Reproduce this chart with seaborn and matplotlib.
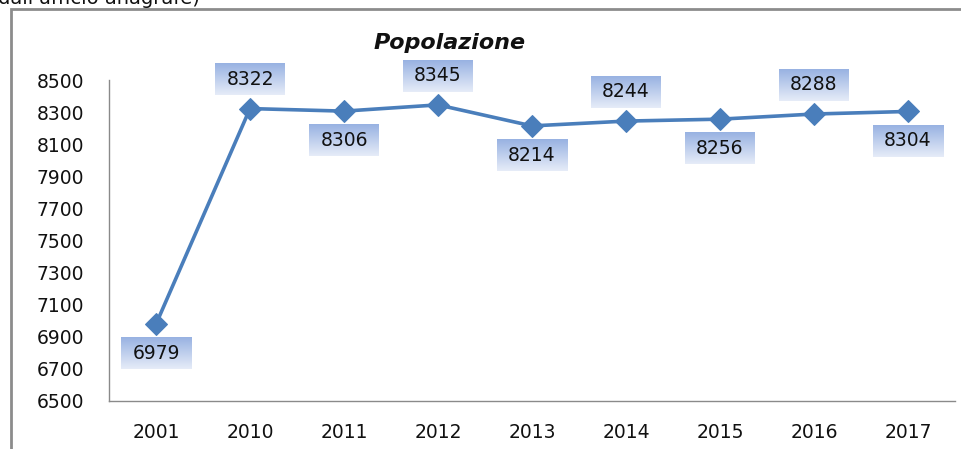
import matplotlib
matplotlib.use("Agg")
import matplotlib.pyplot as plt
from matplotlib.patches import Rectangle
import numpy as np
import pandas as pd
import seaborn as sns

# data
years = ["2001", "2010", "2011", "2012", "2013", "2014", "2015", "2016", "2017"]
population = [6979, 8322, 8306, 8345, 8214, 8244, 8256, 8288, 8304]
label_side = [-1, 1, -1, 1, -1, 1, -1, 1, -1]  # below / above
y_ticks = [6500, 6700, 6900, 7100, 7300, 7500, 7700, 7900, 8100, 8300, 8500]

LINE_COLOR = "#4a7ebb"
W, H, DPI = 962, 449, 100


def main():
    df = pd.DataFrame({"Anno": years, "Popolazione": population})

    sns.set_theme(style="white")
    plt.rcParams["font.family"] = ["DejaVu Sans"]
    fig = plt.figure(figsize=(W / DPI, H / DPI), dpi=DPI)
    ax = fig.add_axes([109 / W, (H - 401) / H, (955 - 109) / W, (401 - 80) / H])

    sns.lineplot(
        data=df, x="Anno", y="Popolazione", ax=ax, color=LINE_COLOR,
        linewidth=2.6, marker="D", markersize=11, markeredgecolor=LINE_COLOR,
        zorder=3,
    )

    ax.set_xlim(-0.5, len(years) - 0.5)
    ax.set_ylim(6500, 8500)
    ax.set_yticks(y_ticks)
    ax.set_xlabel("")
    ax.set_ylabel("")
    ax.tick_params(axis="y", length=0, pad=18, labelsize=13.5, colors="#111111")
    ax.tick_params(axis="x", length=0, pad=16, labelsize=13.5, colors="#111111")
    for s in ["top", "right"]:
        ax.spines[s].set_visible(False)
    for s in ["left", "bottom"]:
        ax.spines[s].set_color("#8a8a8a")
        ax.spines[s].set_linewidth(1.0)

    # data labels
    texts = []
    for i, (v, side) in enumerate(zip(population, label_side)):
        t = ax.annotate(
            f"{v}", xy=(i, v), xytext=(0, 21 * side), textcoords="offset points",
            ha="center", va="center", fontsize=13.5, color="#111111", zorder=6,
        )
        texts.append(t)

    # gradient boxes behind labels
    fig.canvas.draw()
    grad = np.linspace(0, 1, 64).reshape(-1, 1)
    top_c = np.array([0x98, 0xb2, 0xe2]) / 255
    bot_c = np.array([0xe6, 0xec, 0xf8]) / 255
    img = top_c[None, None, :] * (1 - grad[:, :, None]) + bot_c[None, None, :] * grad[:, :, None]
    inv = ax.transData.inverted()
    for t in texts:
        bb = t.get_window_extent()
        cx, cy = (bb.x0 + bb.x1) / 2, (bb.y0 + bb.y1) / 2
        (x0, y0) = inv.transform((cx - 35, cy - 16))
        (x1, y1) = inv.transform((cx + 35, cy + 16))
        ax.imshow(img, extent=(x0, x1, y0, y1), aspect="auto", zorder=5,
                  clip_on=False, interpolation="bilinear")
    ax.set_xlim(-0.5, len(years) - 0.5)
    ax.set_ylim(6500, 8500)

    # title
    fig.text(450 / W, (H - 43) / H, "Popolazione", ha="center", va="center",
             fontsize=16, fontweight="bold", fontstyle="italic", color="#111111")

    # outer chart frame (cropped)
    fig.patches.append(Rectangle((11 / W, -0.1), 1.2, (H - 9) / H + 0.1,
                                 transform=fig.transFigure, fill=False,
                                 edgecolor="#8c8c8c", linewidth=2.0))

    # caption text at the very top, cropped like in the source image
    fig.text(-2 / W, (H - 4) / H, "dall'ufficio anagrafe)", ha="left",
             va="baseline", fontsize=14, color="#111111")

    fig.savefig("out.png", dpi=DPI)
    plt.close(fig)


if __name__ == "__main__":
    main()
